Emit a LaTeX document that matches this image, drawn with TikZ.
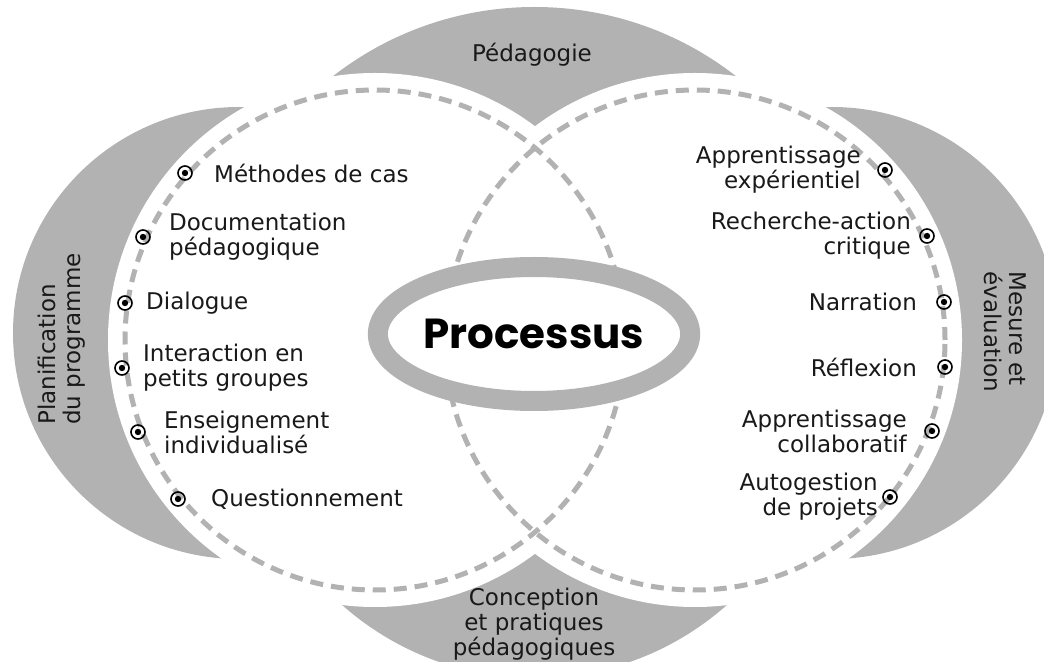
\documentclass[tikz,border=0pt]{standalone}
\usepackage{fontspec}
\setmainfont{DejaVu Sans}
\newfontfamily\titrefont{Poppins}
\usetikzlibrary{positioning,shapes.geometric}
\definecolor{grisfond}{RGB}{178,178,178}
\tikzset{
  puce/.style={circle, draw=black, line width=0.8pt, minimum size=7pt, inner sep=0pt,
    path picture={\fill[black] (path picture bounding box.center) circle (1.6pt);}},
  etiq/.style={font=\fontsize{11.5}{12.5}\selectfont, inner sep=0pt, text=black!90},
  gauche/.style={etiq, align=left},
  droite/.style={etiq, align=right},
  pointille/.style={draw=grisfond, line width=2.5pt, dash pattern=on 6.5pt off 4pt},
  noyau/.style={ellipse, draw=grisfond, line width=10pt, fill=white, minimum width=148pt,
    minimum height=67pt, inner sep=0pt, font=\titrefont\bfseries\fontsize{21}{23}\selectfont}
}

\begin{document}
\begin{tikzpicture}[x=0.5pt, y=-0.5pt]
\useasboundingbox (0,0) rectangle (1044,662);
\clip (0,0) rectangle (1044,662);

% centres des deux cercles
\coordinate (cg) at (375,340);
\coordinate (cd) at (695,340);

% fonds gris
\begin{scope}
  \clip (0,0) rectangle (1044,200);
  \fill[grisfond] (534.5,335) circle[radius=164pt];
\end{scope}
\begin{scope}
  \clip (0,470) rectangle (1044,662);
  \fill[grisfond] (534.5,388) circle[radius=145pt];
\end{scope}
\fill[grisfond] (239,333) circle[radius=113pt];
\fill[grisfond] (832,333) circle[radius=113pt];

% cercles blancs et pointilles
\fill[white] (cg) circle[radius=133.5pt];
\fill[white] (cd) circle[radius=133.5pt];
\draw[pointille] (cg) circle[radius=125pt];
\draw[pointille] (cd) circle[radius=125pt];

\node[noyau] (proc) at (534,334) {Processus};

% titres des zones
\node[etiq] (peda) at (532,55) {Pédagogie};
\node[etiq, align=center] (concep) at (534,624) {Conception\\et pratiques\\pédagogiques};
\node[etiq, align=left, rotate=90] (planif) at (62,339) {Planification\\du programme};
\node[etiq, align=left, rotate=-90] (mesure) at (1005,332) {Mesure et\\évaluation};

% cote gauche
\node[puce] (m1) at (185,173) {};
\node[puce] (m2) at (143,237) {};
\node[puce] (m3) at (125,303) {};
\node[puce] (m4) at (122,368) {};
\node[puce] (m5) at (138,432) {};
\node[puce] (m6) at (178,499) {};
\node[gauche, right=10.5pt of m1] (t1) {Méthodes de cas};
\node[gauche, right=9pt of m2] (t2) {Documentation\\pédagogique};
\node[gauche, right=6.5pt of m3] (t3) {Dialogue};
\node[gauche, right=6.5pt of m4] (t4) {Interaction en\\petits groupes};
\node[gauche, right=9pt of m5] (t5) {Enseignement\\individualisé};
\node[gauche, right=12.5pt of m6] (t6) {Questionnement};

% cote droit
\node[puce] (n1) at (885,170) {};
\node[puce] (n2) at (927,236) {};
\node[puce] (n3) at (944,302) {};
\node[puce] (n4) at (945,367) {};
\node[puce] (n5) at (932,431) {};
\node[puce] (n6) at (890,497) {};
\node[droite, left=8pt of n1] (u1) {Apprentissage\\expérientiel};
\node[droite, left=4pt of n2] (u2) {Recherche-action\\critique};
\node[droite, left=9.5pt of n3] (u3) {Narration};
\node[droite, left=10pt of n4] (u4) {Réflexion};
\node[droite, left=8.5pt of n5] (u5) {Apprentissage\\collaboratif};
\node[droite, left=2pt of n6] (u6) {Autogestion\\de projets};

\end{tikzpicture}
\end{document}
